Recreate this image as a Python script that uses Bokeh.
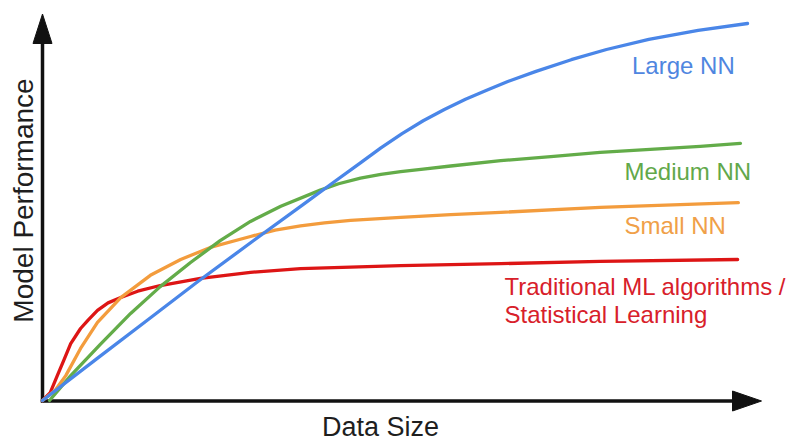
import math
from bokeh.plotting import figure
from bokeh.models import Range1d, Label
from bokeh.embed import file_html
from bokeh.resources import INLINE

# ---- data (data size 0..100, model performance 0..100) ----
large_x = [0, 8, 15, 22, 30, 37, 41, 45, 48, 51, 54, 57, 60, 63, 66, 70, 75, 80, 86, 93, 100]
large_y = [0, 11.5, 21.5, 31.5, 42.5, 52, 57.5, 62.9, 67.0, 70.8, 74.2, 77.2, 79.9, 82.3, 84.6, 87.3, 90.4, 93.1, 95.8, 98.2, 100]

medium_x = [1, 4, 8.2, 12.5, 16.7, 21, 25.2, 29.5, 33.8, 39.4, 42, 45.1, 48, 50.8, 54, 57.9, 65, 72.1, 79.1, 86.2, 93.3, 99]
medium_y = [0, 6.6, 14.9, 23.1, 30.2, 36.6, 42.4, 47.5, 51.5, 55.8, 57.5, 59.0, 60.0, 60.7, 61.4, 62.2, 63.6, 64.7, 65.8, 66.6, 67.4, 68.2]

small_x = [0, 1.8, 3.3, 5.4, 7.8, 11.1, 15.3, 19.6, 23.8, 29.5, 33, 36.6, 40, 43.7, 50.8, 57.9, 65, 79.1, 98.7]
small_y = [0, 2.7, 6.6, 13.8, 20.7, 27.3, 33.2, 37.4, 40.6, 43.5, 45.2, 46.3, 47.1, 47.8, 48.6, 49.3, 49.9, 51.2, 52.5]

trad_x = [0, 1.1, 2.1, 3, 4, 5.4, 6.5, 7.8, 9.3, 11.1, 13.5, 16.7, 22.4, 29.5, 36.6, 50.8, 65, 79.1, 98.6]
trad_y = [0, 2.1, 6.6, 10.6, 15.1, 19.1, 21.4, 23.9, 25.9, 27.3, 29.0, 30.5, 32.4, 34.0, 35.0, 35.8, 36.3, 36.9, 37.4]

series_names = ["Large NN", "Medium NN", "Small NN",
                "Traditional ML algorithms /\nStatistical Learning"]
x_label = "Data Size"
y_label = "Model Performance"

# ---- layout helpers (picture pixel -> data) ----
W, H = 790, 443
OX, OY = 42.0, 400.0      # origin in picture pixels
SX, SY = 7.05, 3.77       # pixels per data unit


def X(px):
    return (px - OX) / SX


def Y(py):
    return (OY - py) / SY


p = figure(width=W, height=H, output_backend="svg", toolbar_location=None,
           x_axis_type=None, y_axis_type=None, min_border=0,
           x_range=Range1d(X(0), X(W)), y_range=Range1d(Y(H), Y(0)))
p.outline_line_color = None
p.background_fill_color = "white"
p.border_fill_color = "white"

AXC = "#111111"
# axes with arrow heads
p.line([X(42), X(42)], [Y(401.8), Y(42)], line_color=AXC, line_width=3.5)
p.patch([X(42), X(32.5), X(51.5)], [Y(13.5), Y(43), Y(43)], fill_color=AXC, line_color=AXC, line_width=1)
p.line([X(40.3), X(733)], [Y(400.5), Y(400.5)], line_color=AXC, line_width=3.5)
p.patch([X(761), X(732), X(732)], [Y(400.5), Y(390.5), Y(410.5)], fill_color=AXC, line_color=AXC, line_width=1)

RED, ORANGE, GREEN, BLUE = "#dd1515", "#f39c3d", "#63ac49", "#4a86e8"
LW = 3.3
p.line(trad_x, trad_y, line_color=RED, line_width=LW, line_join="round", line_cap="round")
p.line(small_x, small_y, line_color=ORANGE, line_width=LW, line_join="round", line_cap="round")
p.line(medium_x, medium_y, line_color=GREEN, line_width=LW, line_join="round", line_cap="round")
p.line(large_x, large_y, line_color=BLUE, line_width=LW, line_join="round", line_cap="round")

FONT = "Liberation Sans"
FS = "24px"


def lab(txt, px, py, color, size=FS, align="left", angle=0.0):
    p.add_layout(Label(x=X(px), y=Y(py), text=txt, text_color=color, text_font=FONT,
                       text_font_size=size, text_align=align, text_baseline="alphabetic",
                       angle=angle))


lab(series_names[0], 631.5, 64.5, "#4f86e0")
lab(series_names[1], 624, 170.5, "#62a84a")
lab(series_names[2], 624, 224.5, "#f0a048")
t1, t2 = series_names[3].split("\n")
lab(t1, 504, 285.5, "#d8202a")
lab(t2, 504, 313.8, "#d8202a")
lab(x_label, 380, 426.5, "#1e1e1e", size="27px", align="center")
lab(y_label, 22.8, 200, "#1e1e1e", size="28px", align="center", angle=math.pi / 2)

open("out.html", "w").write(file_html(p, INLINE))
